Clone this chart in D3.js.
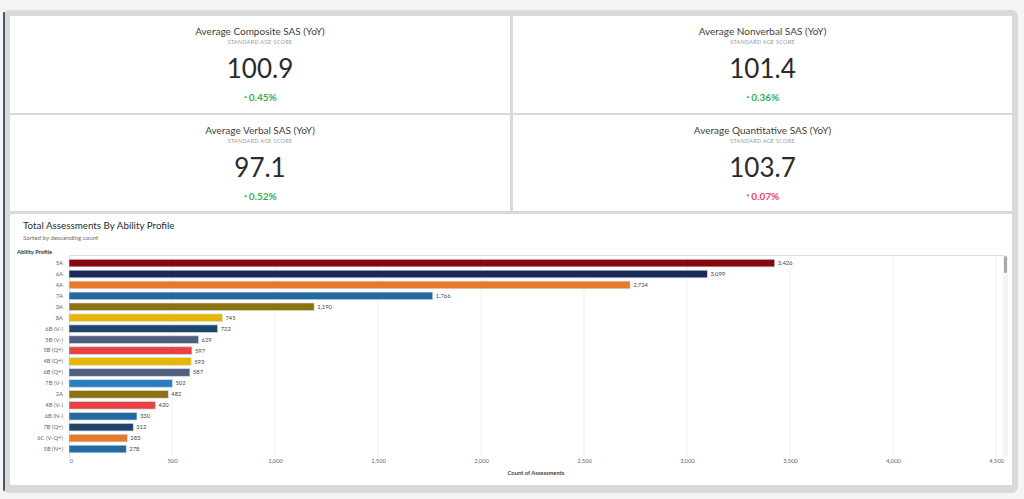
<!DOCTYPE html>
<html><head><meta charset="utf-8">
<script src="https://cdn.jsdelivr.net/npm/d3@7"></script>
<style>html,body{margin:0;padding:0;background:#f4f4f2;overflow:hidden}svg{display:block}</style>
</head><body>
<script>
// KPI data
const kpiTitles = ["Average Composite SAS (YoY)", "Average Nonverbal SAS (YoY)", "Average Verbal SAS (YoY)", "Average Quantitative SAS (YoY)"];
const kpiValues = ["100.9", "101.4", "97.1", "103.7"];
const kpiChanges = [0.45, 0.36, 0.52, -0.07];
const kpiSubtitle = "STANDARD AGE SCORE";

// Bar chart data
const categories = ["5A","6A","4A","7A","3A","8A","6B (V-)","5B (V-)","5B (Q+)","4B (Q+)","6B (Q+)","7B (V-)","2A","4B (V-)","6B (N-)","7B (Q+)","6C (V-Q+)","5B (N+)"];
const counts = [3426,3099,2724,1766,1190,745,722,629,597,593,587,502,482,420,330,312,283,278];
const barColors = ["#870808","#1d2a58","#e67a2a","#24699d","#8b7312","#e6b700","#1d4669","#525e80","#e84343","#e6b700","#525e80","#2d80c0","#8b7312","#e84343","#236aa0","#1d4669","#e67a2a","#236aa0"];
const xTicks = [0,500,1000,1500,2000,2500,3000,3500,4000,4500];

const W = 1024, H = 499;
const FONT = "Lato, 'Open Sans', sans-serif";
const svg = d3.select("body").append("svg").attr("width", W).attr("height", H).style("font-family", FONT);

svg.append("rect").attr("width", W).attr("height", H).attr("fill", "#f4f4f2");
// frame
svg.append("rect").attr("x", 3).attr("y", 10).attr("width", 1015).attr("height", 483).attr("rx", 6).attr("fill", "#d9d9d9");
svg.append("rect").attr("x", 3).attr("y", 12).attr("width", 2).attr("height", 479).attr("rx", 1).attr("fill", "#4a5473");

// panels
const cards = [
  {x: 10, y: 16, w: 500, h: 97},
  {x: 513, y: 16, w: 499, h: 97},
  {x: 10, y: 115, w: 500, h: 96},
  {x: 513, y: 115, w: 499, h: 96}
];
const cardG = svg.selectAll("g.card").data(cards).join("g").attr("class", "card")
  .attr("transform", d => `translate(${d.x},${d.y})`);
cardG.append("rect").attr("width", d => d.w).attr("height", d => d.h).attr("fill", "#fff");
cardG.append("text").attr("x", d => d.w / 2).attr("y", 15).attr("text-anchor", "middle").attr("dominant-baseline", "central")
  .attr("font-size", 10).attr("fill", "#3e3e3c").text((d, i) => kpiTitles[i]);
cardG.append("text").attr("x", d => d.w / 2).attr("y", 25.6).attr("text-anchor", "middle").attr("dominant-baseline", "central")
  .attr("font-size", 5.4).attr("letter-spacing", 0.3).attr("fill", "#9a9a9a").text(kpiSubtitle);
cardG.append("text").attr("x", d => d.w / 2).attr("y", 51.5).attr("text-anchor", "middle").attr("dominant-baseline", "central")
  .attr("font-size", 26).attr("fill", "#2b2b2b").text((d, i) => kpiValues[i]);
const chg = cardG.append("text").attr("x", d => d.w / 2).attr("y", 80.5).attr("text-anchor", "middle").attr("dominant-baseline", "central")
  .attr("font-size", 10).attr("font-weight", "bold").attr("fill", (d, i) => kpiChanges[i] >= 0 ? "#33ad55" : "#e8475a");
chg.append("tspan").attr("font-size", 4.5).attr("dy", -0.5).text((d, i) => kpiChanges[i] >= 0 ? "▲ " : "▼ ");
chg.append("tspan").attr("dy", 0.5).text((d, i) => Math.abs(kpiChanges[i]).toFixed(2) + "%");

// chart panel
svg.append("rect").attr("x", 10).attr("y", 214).attr("width", 1002).attr("height", 271).attr("fill", "#fff");
svg.append("text").attr("x", 23).attr("y", 225.3).attr("dominant-baseline", "central").attr("font-size", 9.8).attr("fill", "#2b2b2b")
  .text("Total Assessments By Ability Profile");
svg.append("text").attr("x", 23).attr("y", 237).attr("dominant-baseline", "central").attr("font-size", 6.2).attr("fill", "#6b6b6b")
  .text("Sorted by descending count");
svg.append("text").attr("x", 17).attr("y", 251.7).attr("dominant-baseline", "central").attr("font-size", 5.8).attr("font-weight", "bold").attr("fill", "#333")
  .text("Ability Profile");

const x = d3.scaleLinear().domain([0, 4500]).range([69, 996]);
const y = d3.scaleBand().domain(categories).range([257.6, 454.5]).paddingInner(0.3).paddingOuter(0.15);

// gridlines
svg.append("g").selectAll("line").data(xTicks.slice(1)).join("line")
  .attr("x1", d => x(d)).attr("x2", d => x(d)).attr("y1", 255).attr("y2", 457)
  .attr("stroke", "#efefef").attr("stroke-width", 1);
// plot borders
svg.append("line").attr("x1", 69).attr("x2", 1003).attr("y1", 255.5).attr("y2", 255.5).attr("stroke", "#dcdcdc");
svg.append("line").attr("x1", 69.5).attr("x2", 69.5).attr("y1", 255).attr("y2", 457).attr("stroke", "#dcdcdc");

// x axis labels
const xAxis = d3.axisBottom(x).tickValues(xTicks).tickSize(0).tickPadding(0).tickFormat(d3.format(","));
const xg = svg.append("g").attr("transform", "translate(0,459)").call(xAxis);
xg.select(".domain").remove();
xg.selectAll("text").attr("font-size", 5.8).attr("fill", "#666").attr("font-family", FONT);
xg.selectAll(".tick").filter(d => d === 0).select("text").attr("dx", 2);
svg.append("text").attr("x", 536).attr("y", 472.3).attr("text-anchor", "middle").attr("dominant-baseline", "central")
  .attr("font-size", 5.8).attr("font-weight", "bold").attr("fill", "#444").text("Count of Assessments");

// y axis labels
const yAxis = d3.axisLeft(y).tickSize(0).tickPadding(6);
const yg = svg.append("g").attr("transform", "translate(69,0)").call(yAxis);
yg.select(".domain").remove();
yg.selectAll("text").attr("font-size", 5.8).attr("fill", "#666").attr("font-family", FONT);

// bars
svg.append("g").selectAll("rect").data(categories).join("rect")
  .attr("x", x(0)).attr("y", d => y(d)).attr("width", (d, i) => x(counts[i]) - x(0)).attr("height", y.bandwidth())
  .attr("fill", (d, i) => barColors[i]).attr("stroke", "#d4dde8").attr("stroke-width", 0.7);
svg.append("g").selectAll("text").data(categories).join("text")
  .attr("x", (d, i) => x(counts[i]) + 3).attr("y", d => y(d) + y.bandwidth() / 2 - 0.5).attr("dominant-baseline", "central")
  .attr("font-size", 5.8).attr("fill", "#444").text((d, i) => d3.format(",")(counts[i]));

// scrollbar
svg.append("rect").attr("x", 1003).attr("y", 255).attr("width", 5).attr("height", 202).attr("fill", "#f3f3f3");
svg.append("rect").attr("x", 1004).attr("y", 256).attr("width", 3).attr("height", 17).attr("rx", 1.5).attr("fill", "#a8a8a8");
</script>
</body></html>
